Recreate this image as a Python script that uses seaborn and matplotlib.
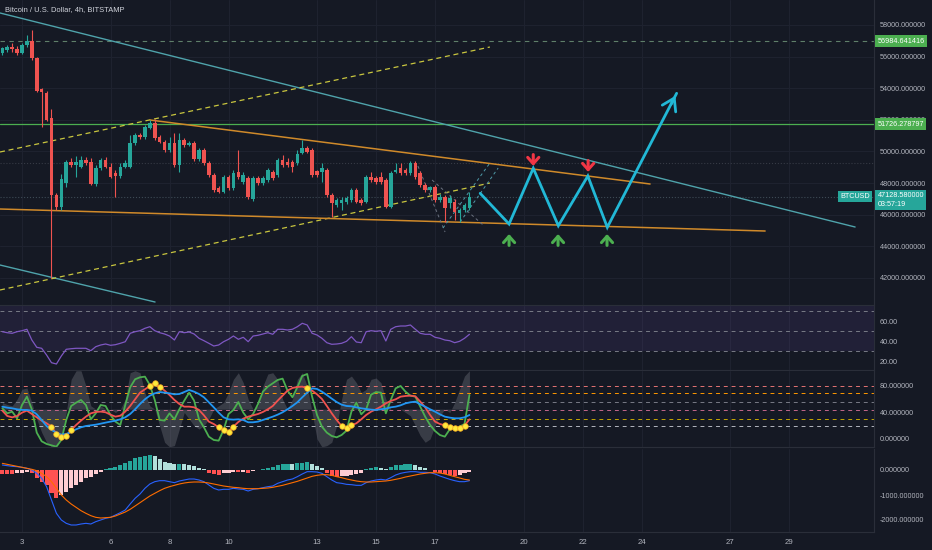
import matplotlib
matplotlib.use("Agg")
import matplotlib.pyplot as plt
import seaborn as sns
import pandas as pd
import numpy as np

# BTCUSD 4h candles
opens = [56210, 56420, 56630, 56460, 56250, 56730, 56990, 55890, 53930, 53680,
         52100, 47240, 46500, 47980, 49350, 49140, 49030, 49460, 49350, 47940,
         48930, 49460, 49030, 48610, 48440, 49030, 49030, 50510, 51040, 50890,
         51500, 51780, 50930, 50610, 50090, 50510, 49140, 50720, 50400, 50510,
         49500, 50090, 49250, 48510, 47660, 47450, 48400, 47660, 48720, 48060,
         48320, 46990, 48300, 47980, 48190, 48720, 48510, 49460, 49350, 49350,
         49270, 49880, 50200, 50090, 48760, 48720, 48820, 47240, 46610, 46720,
         46820, 46920, 47560, 46920, 46820, 48400, 48300, 48400, 48190, 46500,
         48720, 48930, 48820, 48610, 49250, 48610, 47870, 47560, 47770, 46920,
         47130, 46720, 46820, 46080, 46290, 46400]
highs = [56630, 56730, 56860, 56670, 56860, 57370, 57680, 55980, 53990, 53820,
         52680, 47370, 48570, 49460, 49580, 49710, 49710, 49650, 49580, 49140,
         49580, 49650, 49270, 48820, 49270, 49460, 51040, 51160, 51160, 51670,
         51990, 52050, 51040, 50720, 50910, 51160, 51180, 50850, 50660, 50660,
         50220, 50220, 49390, 48630, 47810, 48510, 48510, 48820, 50090, 48700,
         48440, 48440, 48440, 48440, 48950, 48820, 49580, 49770, 49580, 49460,
         50090, 50720, 50340, 50220, 48820, 49250, 48950, 47370, 47050, 47110,
         47180, 47680, 47680, 47050, 48510, 48720, 48440, 48720, 48320, 48760,
         49250, 49250, 48950, 49390, 49390, 48760, 47990, 47810, 47870, 47300,
         47240, 47240, 46990, 46420, 46730, 47450]
lows = [56100, 56290, 56290, 56100, 56160, 56610, 55790, 53760, 51560, 51920,
        41990, 46290, 46290, 47750, 49010, 48400, 48950, 49140, 47870, 47810,
        48820, 48950, 48320, 47130, 48320, 48950, 48950, 50400, 50790, 50790,
        51420, 50720, 50530, 49960, 49960, 49010, 48700, 50280, 50340, 49390,
        49390, 49140, 48380, 47430, 47370, 47370, 47560, 47560, 48250, 47940,
        46990, 46860, 47870, 47870, 48060, 48190, 48380, 49010, 49010, 48700,
        49140, 49840, 49900, 48380, 48380, 48080, 47110, 45870, 46480, 46290,
        46670, 46800, 46730, 46610, 46730, 48060, 47940, 47940, 46420, 46420,
        48630, 48510, 48510, 48510, 48280, 47750, 47430, 47430, 46800, 46800,
        45550, 46420, 45660, 45550, 46160, 46290]
closes = [56520, 56630, 56460, 56210, 56730, 56990, 55890, 53840, 53780, 51990,
          47240, 46500, 48230, 49350, 49140, 49350, 49460, 49290, 47940, 48930,
          49460, 49030, 48400, 48440, 49030, 49250, 50510, 51040, 50890, 51560,
          51780, 50830, 50610, 50090, 50510, 49140, 50720, 50400, 50510, 49500,
          50090, 49250, 48510, 47560, 47450, 48400, 47660, 48650, 48380, 48510,
          47110, 48300, 47980, 48300, 48820, 48300, 49460, 49140, 49140, 49030,
          49840, 50200, 49980, 48510, 48510, 48930, 47240, 46720, 46920, 46920,
          47030, 47560, 46820, 46720, 48400, 48190, 48080, 48080, 46500, 48610,
          48820, 48610, 48610, 49250, 48400, 47870, 47560, 47770, 46920, 47130,
          46420, 47030, 46180, 46290, 46610, 47130]

rsi = [49.3, 48.3, 47.7, 49.3, 50.3, 51.7, 41, 33.7, 32.7, 26,
       18.3, 17, 25, 31.7, 32.3, 32.7, 32.7, 32.7, 30.3, 34.3,
       36, 37, 35.7, 36.3, 37.7, 39.3, 47.7, 49.3, 50.3, 52.7,
       54.3, 50.3, 48.3, 47, 45, 41, 49.3, 48.3, 49, 47,
       42.7, 40.3, 37.7, 35, 36, 39.3, 41.7, 45, 41.7, 43.7,
       39.3, 45, 45.7, 47, 48.3, 46.7, 51.7, 51.7, 51, 51.7,
       54.3, 57.7, 56, 47.7, 46, 42.7, 38.3, 36.7, 37, 37.7,
       39.7, 44.3, 39, 38.3, 49.3, 50.3, 49.7, 50.3, 40, 51.7,
       54.3, 55, 55, 56, 51.7, 47.7, 46.7, 46.7, 43.7, 42.7,
       41, 40.3, 38.3, 39.7, 42.7, 46.7]

osc_fast = [46.3, 38.7, 41.3, 31.2, 51.3, 63.9, 44.8, 9.6, -3.5, -7.5,
            -9.6, -11.6, -1.5, 28.7, 49.8, 54.8, 58.9, 51.3, 29.7, 38.7,
            51.3, 49.8, 36.2, 26.2, 21.1, 51.3, 78.0, 90.1, 93.1, 94.1,
            81.5, 58.9, 28.7, 27.7, 38.7, 29.7, 44.8, 57.9, 69.9, 57.9,
            29.7, 17.6, 3.5, -1.5, -2.5, 13.6, 37.7, 43.8, 55.8, 39.8,
            29.7, 37.7, 52.8, 71.4, 79.0, 84.0, 89.1, 91.1, 73.0, 62.9,
            78.0, 95.1, 98.1, 63.9, 36.2, 18.6, 9.6, 4.5, 2.5, 6.0,
            12.6, 41.3, 54.8, 37.2, 44.8, 66.9, 70.9, 69.9, 38.7, 58.9,
            76.5, 80.0, 71.4, 65.4, 63.9, 48.8, 33.7, 21.1, 12.1, 6.0,
            3.5, 14.6, 16.1, 18.6, 22.6, 66.4]
osc_mid = [42.8, 34.7, 32.7, 34.7, 39.8, 42.8, 37.7, 32.7, 27.7, 23.7,
           18.6, 7.6, 2.5, 4.5, 13.6, 21.1, 27.7, 33.7, 38.7, 40.8,
           41.3, 40.3, 36.7, 33.7, 35.2, 41.3, 49.8, 59.9, 69.9, 75.0,
           80.0, 85.0, 79.0, 73.0, 66.4, 58.9, 52.8, 48.8, 48.8, 47.8,
           43.8, 35.7, 26.2, 22.6, 17.6, 13.6, 11.1, 18.6, 25.7, 30.7,
           33.7, 35.7, 37.7, 40.8, 44.8, 49.8, 57.9, 65.4, 73.0, 77.0,
           78.5, 79.0, 76.5, 73.0, 67.4, 60.4, 49.8, 38.7, 28.7, 19.6,
           16.1, 20.6, 23.7, 29.7, 36.2, 41.3, 44.8, 48.8, 53.8, 57.4,
           59.9, 63.9, 64.9, 65.4, 64.4, 56.4, 47.8, 36.2, 26.2, 22.6,
           20.6, 17.6, 16.6, 17.1, 20.1, 29.7]
osc_slow = [48.8, 47.3, 46.3, 44.8, 43.8, 43.8, 42.8, 37.2, 28.7, 19.6,
            13.6, 9.6, 6.6, 7.6, 10.6, 14.6, 17.6, 19.6, 20.6, 21.6,
            23.1, 24.7, 26.2, 27.7, 29.7, 32.7, 37.7, 44.8, 52.8, 59.9,
            65.4, 68.9, 70.9, 69.9, 68.9, 67.4, 67.9, 70.9, 74.0, 71.4,
            67.9, 62.9, 55.4, 47.8, 39.8, 32.7, 29.7, 29.2, 29.7, 28.7,
            25.2, 25.2, 26.2, 28.7, 31.2, 33.7, 36.7, 40.3, 44.8, 49.8,
            55.4, 62.9, 69.9, 76.5, 75.5, 71.4, 66.4, 60.9, 55.8, 51.8,
            49.8, 49.3, 47.8, 46.3, 45.3, 44.3, 43.8, 44.8, 45.8, 47.8,
            48.8, 50.8, 53.8, 55.4, 56.4, 52.3, 48.8, 44.8, 41.3, 37.2,
            33.7, 32.2, 31.2, 31.2, 32.7, 36.2]
osc_band = [55, 52, 50, 60, 75, 77, 55, 30, 10, -5,
            -12, -10, 5, 40, 90, 103, 103, 80, 50, 45,
            50, 45, 45, 40, 45, 60, 100, 103, 100, 70,
            50, 45, 20, -5, -12, -10, 15, 40, 30, 20,
            15, 20, 30, 45, 50, 55, 70, 90, 100, 85,
            60, 45, 50, 80, 98, 100, 90, 60, 45, 60,
            90, 100, 80, 40, 0, -12, -10, -5, 20, 60,
            90, 95, 85, 70, 75, 90, 92, 85, 60, 45,
            45, 45, 40, 35, 20, 5, -5, 0, 20, 35,
            45, 40, 55, 75, 95, 103]
signal_dots = [10, 11, 12, 13, 14, 30, 31, 32, 44, 45, 46, 47, 62,
               69, 70, 71, 90, 91, 92, 93, 94]

macd_line = [200, 173, 147, 133, 107, 67, 0, -133, -333, -667,
             -1200, -1733, -2000, -2133, -2200, -2200, -2160, -2133, -2160, -2067,
             -2000, -1933, -1893, -1800, -1707, -1600, -1360, -1133, -960, -733,
             -560, -467, -427, -427, -467, -507, -440, -400, -360, -360,
             -400, -467, -600, -733, -800, -773, -773, -733, -760, -773,
             -840, -773, -747, -707, -667, -640, -533, -467, -400, -360,
             -267, -160, -67, -67, -80, -133, -267, -400, -507, -533,
             -573, -587, -613, -613, -507, -440, -400, -373, -400, -307,
             -200, -133, -93, -67, -67, -93, -93, -107, -160, -240,
             -307, -373, -427, -467, -467, -427]
macd_signal = [267, 227, 187, 147, 107, 67, 27, -27, -133, -267,
               -467, -733, -1000, -1200, -1360, -1493, -1627, -1733, -1827, -1893,
               -1920, -1907, -1893, -1840, -1760, -1680, -1573, -1440, -1307, -1173,
               -1040, -933, -827, -733, -667, -613, -560, -520, -493, -480,
               -480, -493, -520, -560, -600, -640, -667, -693, -707, -733,
               -747, -747, -747, -733, -720, -693, -653, -613, -560, -507,
               -453, -387, -320, -253, -213, -187, -187, -213, -267, -307,
               -360, -400, -440, -467, -480, -480, -467, -453, -440, -413,
               -373, -333, -280, -240, -200, -160, -133, -107, -107, -120,
               -160, -213, -267, -320, -373, -400]
macd_hist = [-160, -160, -160, -133, -107, -67, -133, -333, -467, -600,
             -907, -1133, -1000, -867, -733, -600, -467, -333, -267, -160,
             -67, 27, 67, 133, 200, 267, 360, 467, 533, 560,
             600, 560, 427, 333, 267, 227, 240, 227, 200, 160,
             93, 53, -133, -160, -200, -133, -107, -67, -80, -67,
             -107, -53, 13, 53, 93, 133, 200, 227, 240, 233,
             267, 293, 307, 240, 160, 93, -133, -240, -267, -240,
             -227, -200, -173, -107, 40, 93, 107, 93, 53, 133,
             187, 200, 227, 240, 200, 133, 67, 13, -80, -133,
             -160, -187, -227, -200, -133, -67]

first_day = 2.333
bar_days = 1 / 6
day_ticks = [3, 6, 8, 10, 13, 15, 17, 20, 22, 24, 27, 29]

# drawings (day, price)
resist_teal = ([2.254, 31.24], [58760, 45215])
support_teal = ([2.254, 7.51], [42810, 40468])
chan_upper = ([2.254, 18.86], [49962, 56607])
chan_lower = ([2.254, 18.86], [41228, 47999])
wedge_top = ([7.339, 24.29], [51987, 47937])
wedge_bottom = ([2.254, 28.19], [46354, 44962])
small_dashes = [([16.42, 17.34], [49076, 44899]), ([16.9, 18.63], [48190, 45342])]
small_teal_dashes = [([17.27, 18.86], [45152, 49265]), ([17.85, 19.14], [45532, 48949])]
path_days = [18.53, 19.51, 20.33, 21.18, 22.18, 22.84, 25.19]
path_prices = [47348, 45405, 48930, 45297, 48443, 45196, 53677]
down_marks = [(20.33, 49800), (22.19, 49420)]
up_marks = [(19.51, 44050), (21.17, 44050), (22.83, 44050)]
level_high = 56984.641416
level_mid = 51726.278797
last_price = 47128.58

sns.set_style("dark")
bg = "#151924"
grid = "#1f2330"
txt = "#b2b5be"
plt.rcParams["font.family"] = ["Liberation Sans", "DejaVu Sans"]
plt.rcParams["axes.facecolor"] = bg
plt.rcParams["figure.facecolor"] = bg

n = len(closes)
t = first_day + np.arange(n) * bar_days
df = pd.DataFrame({"t": t, "open": opens, "high": highs, "low": lows, "close": closes,
                   "rsi": rsi, "fast": osc_fast, "mid": osc_mid, "slow": osc_slow,
                   "band": osc_band, "macd": macd_line, "signal": macd_signal,
                   "hist": macd_hist})

fig = plt.figure(figsize=(9.32, 5.5), dpi=100)


def panel(y0, y1):
    return fig.add_axes([0, (550 - y1) / 550, 874 / 932, (y1 - y0) / 550])


ax = panel(0, 305)
ax_rsi = panel(306, 370)
ax_osc = panel(371, 447)
ax_macd = panel(449, 532)

for a in (ax, ax_rsi, ax_osc, ax_macd):
    a.set_facecolor(bg)
    a.set_xlim(2.254, 31.88)
    a.set_xticks(day_ticks)
    a.grid(axis="x", color=grid, lw=0.7)
    a.yaxis.tick_right()
    a.tick_params(axis="y", length=0, labelsize=5.2, colors=txt, pad=4)
    a.tick_params(axis="x", length=0, labelbottom=False)
    for s in ("top", "left"):
        a.spines[s].set_visible(False)
    a.spines["right"].set_color("#2a2e39")
    a.spines["bottom"].set_color("#2a2e39")

# main price panel
ax.set_ylim(40279, 59582)
ax.set_yticks(range(42000, 58001, 2000))
ax.set_yticklabels([f"{v:.6f}" for v in range(42000, 58001, 2000)])
ax.grid(axis="y", color=grid, lw=0.7)
up = df["close"] >= df["open"]
colors = np.where(up, "#26a69a", "#ef5350")
body = (df["close"] - df["open"]).where(lambda s: s.abs() > 40, 40)
ax.vlines(df["t"], df["low"], df["high"], colors=colors, lw=0.8, zorder=3)
ax.bar(df["t"], body, bottom=df["open"], width=0.12, color=colors,
       edgecolor="none", linewidth=0, zorder=4)

ax.axhline(level_high, color="#5f7f6a", lw=0.8, ls=(0, (4, 4)))
ax.axhline(level_mid, color="#4caf50", lw=0.9)
ax.axhline(49265, color="#363a45", lw=0.8, ls=":")
ax.axhline(last_price, color="#3d4a55", lw=0.8, ls=":")

ax.plot(*resist_teal, color="#4fa3ab", lw=1)
ax.plot(*support_teal, color="#4fa3ab", lw=1)
ax.plot(*chan_upper, color="#c9c63f", lw=0.9, ls=(0, (4, 3)))
ax.plot(*chan_lower, color="#c9c63f", lw=0.9, ls=(0, (4, 3)))
ax.plot(*wedge_top, color="#d08a2a", lw=1.1)
ax.plot(*wedge_bottom, color="#d08a2a", lw=1.1)
for xs, ys in small_dashes:
    ax.plot(xs, ys, color="#6b7280", lw=0.7, ls=(0, (3, 3)))
for xs, ys in small_teal_dashes:
    ax.plot(xs, ys, color="#4f9aa8", lw=0.7, ls=(0, (3, 3)))

ax.plot(path_days, path_prices, color="#22b8d6", lw=2, solid_joinstyle="miter", zorder=5)
ax.annotate("", xy=(path_days[-1], path_prices[-1]), xytext=(24.96, 52822),
            arrowprops=dict(arrowstyle="->,head_length=0.7,head_width=0.45",
                            color="#22b8d6", lw=2, mutation_scale=12), zorder=6)
mark_kw = dict(arrowstyle="->,head_length=0.45,head_width=0.4", lw=2.2,
               mutation_scale=10, shrinkA=0, shrinkB=0)
for d, p in down_marks:
    ax.annotate("", xy=(d, p - 720), xytext=(d, p),
                arrowprops=dict(color="#f23645", **mark_kw))
for d, p in up_marks:
    ax.annotate("", xy=(d, p + 720), xytext=(d, p),
                arrowprops=dict(color="#4caf50", **mark_kw))

ytr = ax.get_yaxis_transform()
box_kw = dict(ha="left", color="white", fontsize=5.2, transform=ytr, clip_on=False, zorder=10)
ax.text(1.004, level_high, f"{level_high:.6f}", va="center",
        bbox=dict(boxstyle="square,pad=0.3", fc="#4caf50", ec="none"), **box_kw)
ax.text(1.004, level_mid, f"{level_mid:.6f}", va="center",
        bbox=dict(boxstyle="square,pad=0.3", fc="#4caf50", ec="none"), **box_kw)
ax.text(1.004, 47420, f"{last_price:.6f}\n03:57:19", va="top", linespacing=1.3,
        bbox=dict(boxstyle="square,pad=0.3", fc="#26a69a", ec="none"), **box_kw)
ax.text(0.995, last_price, "BTCUSD", ha="right", va="center", color="white", fontsize=5.2,
        transform=ytr, bbox=dict(boxstyle="square,pad=0.3", fc="#26a69a", ec="none"))

fig.text(5 / 932, 1 - 10 / 550, "Bitcoin / U.S. Dollar, 4h, BITSTAMP", color="#d1d4dc",
         fontsize=5.4, va="center", ha="left")

# RSI panel
ax_rsi.set_ylim(11, 75)
ax_rsi.axhspan(30, 75, color="#7e57c2", alpha=0.12, lw=0)
for lvl in (70, 50, 30):
    ax_rsi.axhline(lvl, color="#787b86", lw=0.7, ls=(0, (4, 4)))
sns.lineplot(data=df, x="t", y="rsi", ax=ax_rsi, color="#7e57c2", lw=0.9)
ax_rsi.set_yticks([20, 40, 60])
ax_rsi.set_yticklabels(["20.00", "40.00", "60.00"])

# oscillator panel
ax_osc.set_ylim(-12.1, 102.6)
ax_osc.fill_between(df["t"], df["band"], 45, color="#9598a1", alpha=0.28, lw=0)
for lvl, c in zip([80, 70, 56, 44, 30, 20],
                  ["#e57373", "#ff9800", "#787b86", "#c2668a", "#c6a700", "#b2b5be"]):
    ax_osc.axhline(lvl, color=c, lw=0.7, ls=(0, (4, 4)))
sns.lineplot(data=df, x="t", y="fast", ax=ax_osc, color="#4caf50", lw=1.3)
sns.lineplot(data=df, x="t", y="mid", ax=ax_osc, color="#f0524f", lw=1.3)
sns.lineplot(data=df, x="t", y="slow", ax=ax_osc, color="#2196f3", lw=1.3)
dots = df.iloc[signal_dots]
sns.scatterplot(data=dots, x="t", y="mid", ax=ax_osc, color="#ffe93b",
                edgecolor="#f5a623", s=16, linewidth=0.5, zorder=6)
ax_osc.set_yticks([0, 40, 80])
ax_osc.set_yticklabels(["0.000000", "40.000000", "80.000000"])

# MACD panel
ax_macd.set_ylim(-2480, 840)
hist_colors = []
prev = 0
for h in macd_hist:
    if h >= 0:
        hist_colors.append("#26a69a" if h >= prev else "#b2dfdb")
    else:
        hist_colors.append("#ff5252" if h <= prev else "#ffcdd2")
    prev = h
ax_macd.bar(df["t"], df["hist"], width=0.14, color=hist_colors, edgecolor="none", lw=0)
sns.lineplot(data=df, x="t", y="macd", ax=ax_macd, color="#2962ff", lw=0.8)
sns.lineplot(data=df, x="t", y="signal", ax=ax_macd, color="#ff6d00", lw=0.8)
ax_macd.set_yticks([-2000, -1000, 0])
ax_macd.set_yticklabels(["-2000.000000", "-1000.000000", "0.000000"])
ax_macd.set_xticklabels([str(d) for d in day_ticks])
ax_macd.tick_params(axis="x", labelbottom=True, labelsize=5.6, colors=txt, pad=5)

for a in (ax, ax_rsi, ax_osc, ax_macd):
    a.set_xlabel("")
    a.set_ylabel("")
    a.set_xlim(2.254, 31.88)

fig.savefig("out.png", dpi=100, facecolor=bg)
